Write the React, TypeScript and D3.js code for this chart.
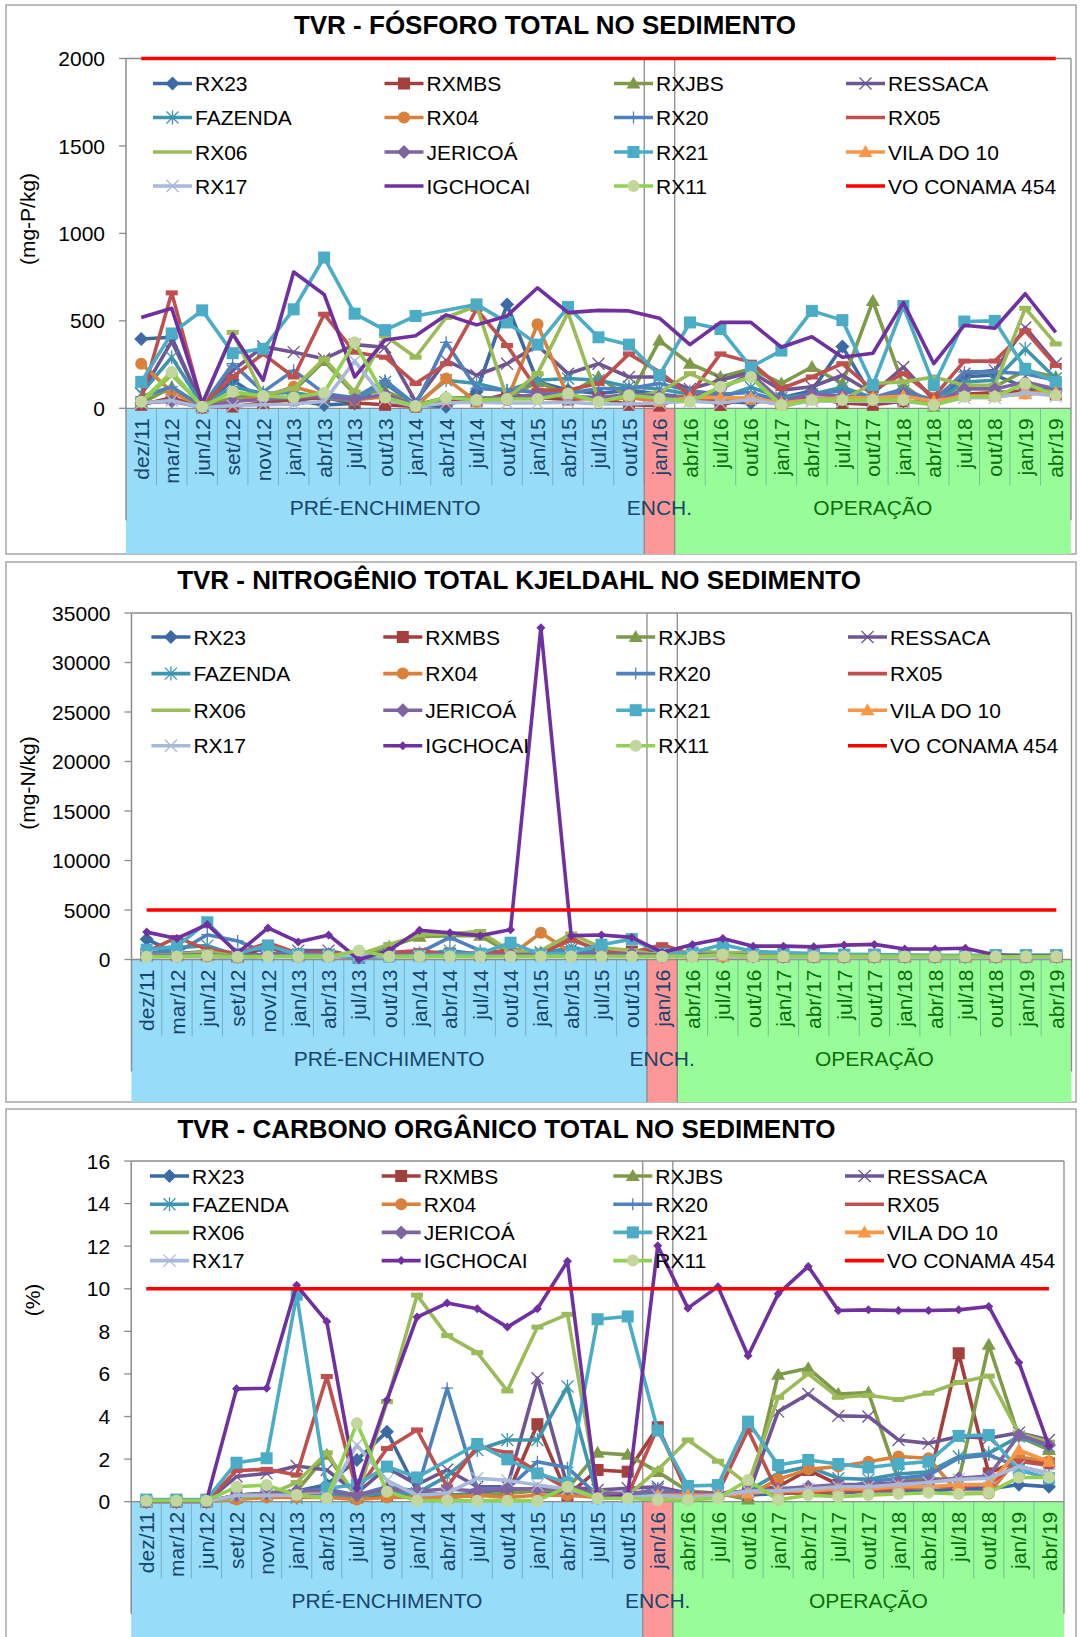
import React from 'react';
import * as d3 from 'd3';

const _ = null;

const CATEGORIES = [
  'dez/11', 'mar/12', 'jun/12', 'set/12', 'nov/12', 'jan/13', 'abr/13', 'jul/13', 'out/13',
  'jan/14', 'abr/14', 'jul/14', 'out/14', 'jan/15', 'abr/15', 'jul/15', 'out/15', 'jan/16',
  'abr/16', 'jul/16', 'out/16', 'jan/17', 'abr/17', 'jul/17', 'out/17', 'jan/18', 'abr/18',
  'jul/18', 'out/18', 'jan/19', 'abr/19',
];

const PHASES = [
  { label: 'PRÉ-ENCHIMENTO', start: 0, end: 16, fill: '#97dcf8', text: '#17456b' },
  { label: 'ENCH.', start: 17, end: 17, fill: '#fe9898', text: '#17456b' },
  { label: 'OPERAÇÃO', start: 18, end: 30, fill: '#98fd98', text: '#0b6e0b' },
];

// legend / drawing order (row-major, as in the legend)
const SERIES = [
  { name: 'RX23', color: '#3c6aa2', marker: 'diamond' },
  { name: 'RXMBS', color: '#a33f3c', marker: 'square' },
  { name: 'RXJBS', color: '#7f9a48', marker: 'triangle' },
  { name: 'RESSACA', color: '#6f5592', marker: 'x' },
  { name: 'FAZENDA', color: '#3d96ae', marker: 'star' },
  { name: 'RX04', color: '#d9803a', marker: 'circle' },
  { name: 'RX20', color: '#4f81bd', marker: 'plus' },
  { name: 'RX05', color: '#c0504d', marker: 'dash' },
  { name: 'RX06', color: '#9bbb59', marker: 'dash' },
  { name: 'JERICOÁ', color: '#8064a2', marker: 'diamond' },
  { name: 'RX21', color: '#4bacc6', marker: 'square' },
  { name: 'VILA DO 10', color: '#f79646', marker: 'triangle' },
  { name: 'RX17', color: '#a9b9da', marker: 'x' },
  { name: 'IGCHOCAI', color: '#7030a0', marker: 'smallDiamond' },
  { name: 'RX11', color: '#92d050', marker: 'circle', markerFill: '#c3d69b' },
  { name: 'VO CONAMA 454', color: '#ff0000', marker: 'none' },
];

// ---- Fósforo total (mg-P/kg)
const P_RX23 = [396, 406, 9, 160, 47, 47, 19, 28, 142, 19, 9, 94, 594, 151, 104, 85, 104, 80, 60, 40, 30, 60, 100, 353, 60, 40, 30, 180, 190, 120, 100];
const P_RXMBS = [20, 60, 5, 10, 30, 50, 60, 30, 20, 10, 40, 40, 80, 60, 50, 60, 20, 15, 80, 19, 60, 30, 60, 30, 20, 40, 30, 80, 90, 100, 80];
const P_RXJBS = [30, 120, 10, 60, 80, 100, 270, 80, 100, 20, 60, 60, 60, 150, 80, 180, 60, 387, 255, 179, 226, 142, 236, 142, 613, 132, 9, 123, 123, 217, 179];
const P_RESSACA = [85, 383, 19, 217, 353, 321, 283, 364, 349, 38, 274, 189, 255, 359, 198, 255, 179, 179, 110, 160, 208, 104, 123, 189, 85, 236, 47, 198, 217, 462, 255];
const P_FAZENDA = [85, 292, 19, 123, 85, 90, 60, 40, 150, 20, 160, 142, 100, 160, 170, 160, 123, 110, 80, 60, 120, 60, 80, 120, 60, 100, 30, 150, 160, 340, 170];
const P_RX04 = [255, 94, 9, 38, 66, 123, 75, 47, 66, 9, 170, 38, 47, 481, 66, 47, 60, 40, 80, 60, 50, 20, 50, 60, 60, 70, 60, 70, 70, 85, 104];
const P_RX20 = [66, 123, 10, 255, 94, 217, 85, 60, 160, 19, 377, 113, 104, 94, 85, 113, 113, 142, 100, 80, 90, 40, 80, 100, 60, 110, 40, 208, 208, 198, 160];
const P_RX05 = [47, 660, 19, 179, 311, 179, 538, 321, 292, 142, 255, 566, 359, 104, 104, 142, 311, 208, 75, 311, 264, 113, 179, 255, 104, 198, 66, 270, 270, 443, 245];
const P_RX06 = [38, 190, 15, 434, 75, 113, 283, 94, 415, 292, 519, 585, 57, 198, 547, 47, 66, 90, 198, 123, 179, 9, 47, 47, 142, 151, 179, 132, 132, 572, 368];
const P_JERICOA = [30, 40, 5, 40, 50, 60, 70, 50, 80, 15, 60, 50, 60, 80, 70, 60, 80, 70, 60, 110, 200, 40, 80, 70, 50, 80, 30, 110, 110, 150, 110];
const P_RX21 = [151, 428, 560, 315, 340, 566, 862, 541, 447, 528, _, 594, 491, 364, 579, 406, 364, 189, 491, 453, 236, 330, 557, 504, 132, 585, 132, 496, 500, 226, 151];
const P_VILA = [_, _, _, _, _, _, _, _, _, _, _, _, _, _, _, _, _, 40, 60, 60, 60, 30, 50, 60, 60, 70, 40, 70, 70, 80, 90];
const P_RX17 = [30, 45, 5, 15, 20, 25, 40, 270, 50, 10, 30, 35, 30, 30, 35, 25, 25, 30, 40, 30, 50, 20, 40, 40, 40, 40, 20, 60, 60, 90, 70];
const P_IGCHOCAI = [519, 572, 28, 425, 160, 779, 651, 179, 391, 415, 534, 477, 528, 689, 547, 560, 557, 515, 364, 491, 491, 349, 409, 292, 315, 604, 255, 475, 458, 655, 434];
const P_RX11 = [38, 208, 9, 94, 70, 62, 89, 377, 62, 13, 62, 47, 53, 53, 85, 38, 75, 57, 38, 123, 179, 19, 47, 47, 47, 47, 19, 66, 66, 142, 75];
const P_VO = [2000, 2000, 2000, 2000, 2000, 2000, 2000, 2000, 2000, 2000, 2000, 2000, 2000, 2000, 2000, 2000, 2000, 2000, 2000, 2000, 2000, 2000, 2000, 2000, 2000, 2000, 2000, 2000, 2000, 2000, 2000];

// ---- Nitrogênio total Kjeldahl (mg-N/kg)
const N_RX23 = [2057, 600, 800, 400, 500, 400, 400, 200, 400, 400, 500, 400, 400, 600, 500, 500, 600, 400, 400, 300, 300, 300, 300, 300, 300, 300, 300, 300, 300, 300, 300];
const N_RXMBS = [600, 600, 500, 300, 1200, 400, 400, 200, 500, 400, 600, 500, 600, 500, 600, 700, 800, 1000, 500, 400, 400, 300, 300, 300, 300, 300, 300, 300, 300, 300, 300];
const N_RXJBS = [500, 500, 400, 300, 500, 400, 400, 300, 1300, 2300, 2400, 2400, 600, 700, 2200, 600, 700, 500, 600, 700, 400, 400, 300, 300, 300, 300, 300, 300, 300, 300, 300];
const N_RESSACA = [400, 500, 600, 300, 500, 900, 900, 200, 500, 600, 500, 500, 500, 700, 1000, 600, 500, 400, 500, 500, 400, 400, 400, 400, 400, 300, 300, 300, 300, 300, 300];
const N_FAZENDA = [500, 1200, 1400, 400, 500, 500, 500, 300, 500, 500, 900, 500, 500, 500, 1300, 500, 500, 300, 400, 400, 400, 300, 300, 300, 300, 300, 300, 300, 300, 300, 300];
const N_RX04 = [500, 300, 300, 200, 400, 300, 300, 200, 300, 300, 400, 500, 400, 2695, 700, 500, 500, 400, 400, 300, 300, 300, 300, 300, 300, 300, 300, 300, 300, 300, 300];
const N_RX20 = [700, 700, 2500, 1879, 600, 500, 500, 300, 500, 700, 2234, 900, 500, 400, 500, 900, 700, 300, 600, 500, 500, 400, 400, 400, 400, 400, 400, 300, 300, 300, 300];
const N_RX05 = [800, 2234, 1000, 600, 1702, 600, 700, 400, 700, 900, 500, 700, 900, 600, 2000, 900, 700, 1500, 500, 600, 500, 400, 400, 400, 400, 300, 300, 300, 300, 300, 300];
const N_RX06 = [400, 500, 800, 300, 400, 300, 300, 500, 1525, 2482, 2600, 2837, 800, 900, 2588, 1200, 900, 400, 900, 700, 700, 500, 500, 500, 500, 400, 400, 400, 400, 400, 350];
const N_JERICOA = [400, 400, 500, 300, 500, 500, 500, 200, 400, 400, 500, 400, 500, 500, 600, 500, 600, 400, 500, 500, 400, 300, 300, 300, 300, 300, 300, 300, 300, 300, 300];
const N_RX21 = [993, 1347, 3759, 600, 1418, 500, 400, 200, 300, 400, 500, 600, 1702, 500, 700, 1500, 2057, 600, 709, 1525, 816, 700, 600, 500, 500, 450, 400, 400, 450, 450, 450];
const N_VILA = [_, _, _, _, _, _, _, _, _, _, _, _, _, _, _, _, _, 300, 300, 300, 300, 300, 300, 300, 300, 300, 300, 300, 300, 300, 300];
const N_RX17 = [300, 300, 300, 200, 300, 300, 300, 500, 300, 300, 300, 300, 300, 300, 300, 300, 300, 300, 300, 300, 300, 200, 200, 200, 200, 200, 200, 200, 200, 200, 200];
const N_IGCHOCAI = [2766, 2128, 3546, 638, 3191, 1773, 2482, 0, 922, 2943, 2695, 2411, 3014, 33500, 2411, 2482, 2234, 709, 1525, 2128, 1348, 1348, 1277, 1454, 1525, 1064, 1064, 1135, 450, 350, 350];
const N_RX11 = [280, 300, 400, 280, 300, 300, 300, 900, 300, 300, 300, 300, 300, 300, 300, 300, 300, 300, 300, 500, 300, 300, 300, 300, 300, 300, 300, 300, 300, 300, 300];
const N_VO = [5000, 5000, 5000, 5000, 5000, 5000, 5000, 5000, 5000, 5000, 5000, 5000, 5000, 5000, 5000, 5000, 5000, 5000, 5000, 5000, 5000, 5000, 5000, 5000, 5000, 5000, 5000, 5000, 5000, 5000, 5000];

// ---- Carbono orgânico total (%)
const C_RX23 = [0, 0, 0, 0.2, 0.4, 0.5, 0.8, 1.96, 3.29, 0.5, 0.3, 0.4, 0.6, 0.5, 0.4, 0.2, 0.2, 0.4, 0.3, 0.3, 0.3, 0.4, 0.4, 0.4, 0.5, 0.5, 0.5, 0.6, 0.6, 0.8, 0.7];
const C_RXMBS = [0, 0, 0, 0.2, 0.3, 0.3, 0.3, 0.2, 0.3, 0.3, 0.2, 0.3, 0.3, 3.64, 0.3, 1.49, 1.41, 3.5, 0.4, 0.4, 0.5, 0.7, 1.49, 0.8, 0.7, 0.8, 0.9, 6.97, 1.33, 1.96, 1.8];
const C_RXJBS = [0, 0, 0, 0.3, 0.4, 0.5, 2.2, 0.2, 0.5, 0.3, 0.3, 0.3, 0.4, 0.5, 0.6, 2.3, 2.2, 1.4, 0.5, 0.4, 0.1, 5.96, 6.27, 5.06, 5.13, 1.0, 1.1, 1.0, 7.37, 3.06, 2.43];
const C_RESSACA = [0, 0, 0, 1.18, 1.33, 1.68, 1.49, 0.4, 1.6, 0.8, 1.5, 0.7, 0.7, 5.8, 0.7, 0.55, 0.63, 0.7, 0.4, 0.4, 0.3, 4.23, 5.06, 4.03, 4.0, 2.9, 2.74, 3.06, 2.98, 3.24, 2.9];
const C_FAZENDA = [0, 0, 0, 0.3, 0.4, 0.2, 0.3, 0.3, 0.4, 0.4, 1.2, 2.43, 2.9, 2.9, 5.41, 0.2, 0.3, 0.6, 0.3, 0.4, 0.5, 1.33, 1.65, 1.1, 1.05, 1.3, 1.4, 2.12, 2.27, 3.06, 2.59];
const C_RX04 = [0, 0, 0, 0.1, 0.2, 0.2, 0.2, 0.1, 0.2, 0.2, 0.2, 0.3, 0.2, 0.3, 0.3, 0.2, 0.2, 0.2, 0.3, 0.3, 0.3, 1.05, 1.52, 1.65, 1.88, 2.12, 2.04, 0.39, 0.39, 2.1, 1.9];
const C_RX20 = [0, 0, 0, 0.3, 0.4, 0.5, 0.6, 0.3, 0.7, 0.5, 5.33, 0.6, 0.6, 1.88, 1.6, 0.3, 0.3, 0.6, 0.2, 0.3, 0.4, 0.6, 0.7, 0.6, 0.94, 1.1, 1.25, 2.04, 2.19, 1.65, 1.33];
const C_RX05 = [0, 0, 0, 1.46, 1.52, 1.25, 5.88, 0.5, 2.5, 3.37, 0.7, 2.6, 2.3, 1.4, 0.6, 0.3, 0.3, 3.5, 0.4, 0.4, 3.37, 0.4, 0.4, 0.5, 0.5, 0.6, 0.7, 0.7, 0.8, 1.9, 1.7];
const C_RX06 = [0, 0, 0, 0.2, 0.3, 0.9, 2.3, 0.2, 4.7, 9.7, 7.8, 7.0, 5.2, 8.2, 8.8, 0.5, 0.3, 1.5, 2.9, 1.9, 0.8, 4.9, 6.0, 4.9, 5.0, 4.8, 5.1, 5.6, 5.9, 3.2, 2.8];
const C_JERICOA = [0, 0, 0, 0.3, 0.4, 0.5, 0.5, 0.3, 0.6, 0.5, 0.6, 0.5, 0.6, 0.6, 0.6, 0.4, 0.4, 0.5, 0.4, 0.4, 0.5, 0.6, 0.7, 0.8, 0.8, 0.9, 1.0, 1.1, 1.2, 3.13, 2.66];
const C_RX21 = [0.1, 0.1, 0.1, 1.83, 2.04, 9.72, 0.63, 0.8, 1.65, 1.14, _, 2.71, 1.99, 1.33, 0.89, 8.57, 8.7, 3.34, 0.74, 0.78, 3.76, 1.72, 1.96, 1.77, 1.61, 1.77, 1.88, 3.09, 3.13, 1.49, 1.1];
const C_VILA = [_, _, _, _, _, _, _, _, _, _, _, _, _, _, _, _, _, 0.3, 0.3, 0.3, 0.4, 0.5, 0.5, 0.6, 0.6, 0.7, 0.7, 0.8, 0.8, 2.43, 1.88];
const C_RX17 = [0, 0, 0, 0.3, 0.3, 0.3, 0.2, 2.66, 1.0, 0.3, 0.4, 1.1, 1.0, 0.78, 0.6, 0.2, 0.2, 0.3, 0.2, 0.3, 0.5, 0.5, 0.6, 0.7, 0.7, 0.8, 0.9, 1.05, 1.1, 1.65, 1.33];
const C_IGCHOCAI = [0.03, 0.03, 0.03, 5.3, 5.33, 10.16, 8.46, 0.63, 4.78, 8.67, 9.33, 9.06, 8.2, 9.06, 11.29, 0.16, 0.3, 12.02, 9.09, 10.1, 6.85, 9.76, 11.05, 8.98, 9.01, 8.98, 8.98, 9.01, 9.17, 6.54, 2.62];
const C_RX11 = [0.05, 0.05, 0.05, 0.7, 0.78, 0.31, 0.16, 3.68, 0.47, 0.05, 0.05, 0.05, 0.05, 0.05, 0.7, 0.16, 0.16, 0.08, 0.08, 0.16, 1.02, 0.08, 0.31, 0.23, 0.31, 0.36, 0.42, 0.36, 0.42, 1.14, 1.14];
const C_VO = [10, 10, 10, 10, 10, 10, 10, 10, 10, 10, 10, 10, 10, 10, 10, 10, 10, 10, 10, 10, 10, 10, 10, 10, 10, 10, 10, 10, 10, 10, 10];

const P_VALUES = [P_RX23, P_RXMBS, P_RXJBS, P_RESSACA, P_FAZENDA, P_RX04, P_RX20, P_RX05, P_RX06, P_JERICOA, P_RX21, P_VILA, P_RX17, P_IGCHOCAI, P_RX11, P_VO];
const N_VALUES = [N_RX23, N_RXMBS, N_RXJBS, N_RESSACA, N_FAZENDA, N_RX04, N_RX20, N_RX05, N_RX06, N_JERICOA, N_RX21, N_VILA, N_RX17, N_IGCHOCAI, N_RX11, N_VO];
const C_VALUES = [C_RX23, C_RXMBS, C_RXJBS, C_RESSACA, C_FAZENDA, C_RX04, C_RX20, C_RX05, C_RX06, C_JERICOA, C_RX21, C_VILA, C_RX17, C_IGCHOCAI, C_RX11, C_VO];

const FONT = '"Liberation Sans", Arial, sans-serif';

const PANELS = [
  {
    title: 'TVR - FÓSFORO TOTAL NO SEDIMENTO', titleX: 545, titleY: 34,
    yTitle: '(mg-P/kg)', yTitleX: 27, yTitleY: 219,
    box: [6, 5, 1070, 549], left: 126, right: 1071, top: 58.5, zero: 408.3,
    yMax: 2000, yStep: 500, bandBottom: 554, phaseY: 515,
    legendX: [153, 384.5, 614, 846], legendY: [83.5, 117.5, 152, 186],
    values: P_VALUES, igMarker: 'none',
  },
  {
    title: 'TVR - NITROGÊNIO TOTAL KJELDAHL NO SEDIMENTO', titleX: 519, titleY: 589,
    yTitle: '(mg-N/kg)', yTitleX: 27, yTitleY: 783,
    box: [6, 562, 1070, 540], left: 131.5, right: 1071.5, top: 613, zero: 959.5,
    yMax: 35000, yStep: 5000, bandBottom: 1102, phaseY: 1066,
    legendX: [151.4, 383.3, 616.2, 848], legendY: [637, 673.6, 710.2, 745.7],
    values: N_VALUES, igMarker: 'smallDiamond',
  },
  {
    title: 'TVR - CARBONO ORGÂNICO TOTAL NO SEDIMENTO', titleX: 506.5, titleY: 1138,
    yTitle: '(%)', yTitleX: 32, yTitleY: 1300,
    box: [6, 1109, 1070, 560], left: 131.2, right: 1064, top: 1161, zero: 1501.7,
    yMax: 16, yStep: 2, bandBottom: 1640, phaseY: 1608,
    legendX: [150, 381.7, 613.3, 845], legendY: [1176, 1204.2, 1232.4, 1260.6],
    values: C_VALUES, igMarker: 'smallDiamond',
  },
];

function Marker({ kind, x, y, color, fill }: any) {
  const s = 6;
  if (kind === 'none') return null;
  if (kind === 'diamond')
    return <path d={`M${x},${y - 7}L${x + 7},${y}L${x},${y + 7}L${x - 7},${y}Z`} fill={color} />;
  if (kind === 'smallDiamond')
    return <path d={`M${x},${y - 4.5}L${x + 4.5},${y}L${x},${y + 4.5}L${x - 4.5},${y}Z`} fill={color} />;
  if (kind === 'square')
    return <rect x={x - s} y={y - s} width={2 * s} height={2 * s} fill={color} />;
  if (kind === 'triangle')
    return <path d={`M${x},${y - 7}L${x + 7},${y + 5}L${x - 7},${y + 5}Z`} fill={color} />;
  if (kind === 'circle') return <circle cx={x} cy={y} r={s} fill={fill || color} />;
  if (kind === 'dash') return <rect x={x - 6} y={y - 2.5} width={12} height={5} fill={color} />;
  const d =
    kind === 'x'
      ? `M${x - s},${y - s}L${x + s},${y + s}M${x - s},${y + s}L${x + s},${y - s}`
      : kind === 'plus'
        ? `M${x - s},${y}L${x + s},${y}M${x},${y - s}L${x},${y + s}`
        : `M${x - s},${y - s}L${x + s},${y + s}M${x - s},${y + s}L${x + s},${y - s}M${x},${y - s - 1}L${x},${y + s + 1}`;
  return <path d={d} stroke={color} strokeWidth={1.3} fill="none" />;
}

function Panel({ cfg }: any) {
  const x = d3.scaleBand<string>().domain(CATEGORIES).range([cfg.left, cfg.right]).padding(0);
  const y = d3.scaleLinear().domain([0, cfg.yMax]).range([cfg.zero, cfg.top]);
  const bw = x.bandwidth();
  const cx = (c: string) => (x(c) as number) + bw / 2;
  const ticks = d3.range(0, cfg.yMax + cfg.yStep / 2, cfg.yStep);
  const line = d3.line<[number, number]>().x((p) => p[0]).y((p) => p[1]);
  const [bx, by, bwid, bh] = cfg.box;
  const redL = x(CATEGORIES[17]) as number;
  const redR = redL + bw;
  const axisBottom = cfg.zero + 112;

  const markerOf = (i: number) => (SERIES[i].name === 'IGCHOCAI' ? cfg.igMarker : SERIES[i].marker);

  return (
    <g>
      <rect x={bx} y={by} width={bwid} height={bh} fill="#fff" stroke="#a6a6a6" strokeWidth={1.5} />
      {PHASES.map((ph) => {
        const x0 = x(CATEGORIES[ph.start]) as number;
        const x1 = (x(CATEGORIES[ph.end]) as number) + bw;
        return <rect key={ph.label} x={x0} y={cfg.zero} width={x1 - x0} height={cfg.bandBottom - cfg.zero} fill={ph.fill} />;
      })}
      {CATEGORIES.map((c, i) =>
        i === 0 ? null : (
          <line key={c} x1={x(c)} x2={x(c)} y1={cfg.zero} y2={cfg.zero + 77} stroke="#5f8a9c" strokeOpacity={0.55} strokeWidth={1} />
        )
      )}
      {/* plot-area outline and the filling-period frame */}
      <line x1={cfg.left} x2={cfg.right} y1={cfg.top} y2={cfg.top} stroke="#8c8c8c" strokeWidth={1.3} />
      <line x1={redL} x2={redL} y1={cfg.top} y2={cfg.bandBottom} stroke="#8c8c8c" strokeWidth={1.3} />
      <line x1={redR} x2={redR} y1={cfg.top} y2={cfg.bandBottom} stroke="#8c8c8c" strokeWidth={1.3} />
      <line x1={cfg.right} x2={cfg.right} y1={cfg.top} y2={axisBottom} stroke="#8c8c8c" strokeWidth={1.3} />
      <line x1={cfg.left} x2={cfg.right} y1={cfg.zero} y2={cfg.zero} stroke="#8c8c8c" strokeWidth={1.3} />
      <line x1={cfg.left} x2={cfg.left} y1={cfg.top} y2={axisBottom} stroke="#8c8c8c" strokeWidth={1.5} />
      {ticks.map((t: number) => (
        <g key={t}>
          <line x1={cfg.left - 7} x2={cfg.left} y1={y(t)} y2={y(t)} stroke="#8c8c8c" strokeWidth={1.3} />
          <text x={cfg.left - 21} y={y(t)} dy="0.36em" textAnchor="end" fontSize={21} fill="#000">
            {t}
          </text>
        </g>
      ))}
      <text
        transform={`translate(${cfg.yTitleX},${cfg.yTitleY}) rotate(-90)`}
        textAnchor="middle"
        dy="0.36em"
        fontSize={21}
        fill="#000"
      >
        {cfg.yTitle}
      </text>
      <text x={cfg.titleX} y={cfg.titleY} textAnchor="middle" fontSize={26} fontWeight="bold" fill="#000">
        {cfg.title}
      </text>
      {CATEGORIES.map((c, i) => {
        const ph = PHASES.find((p) => i >= p.start && i <= p.end)!;
        return (
          <text
            key={c}
            transform={`translate(${cx(c)},${cfg.zero + 10}) rotate(-90)`}
            textAnchor="end"
            dy="0.36em"
            fontSize={21}
            fill={ph.text}
          >
            {c}
          </text>
        );
      })}
      {PHASES.map((ph) => {
        const x0 = x(CATEGORIES[ph.start]) as number;
        const x1 = (x(CATEGORIES[ph.end]) as number) + bw;
        return (
          <text key={ph.label} x={(x0 + x1) / 2} y={cfg.phaseY} textAnchor="middle" fontSize={21} fill={ph.text}>
            {ph.label}
          </text>
        );
      })}
      {SERIES.map((s, si) => {
        const pts: [number, number][] = [];
        cfg.values[si].forEach((v: number | null, i: number) => {
          if (v !== null) pts.push([cx(CATEGORIES[i]), y(v)]);
        });
        const mk = markerOf(si);
        return (
          <g key={s.name}>
            <path d={line(pts) || ''} fill="none" stroke={s.color} strokeWidth={3.6} strokeLinejoin="round" />
            {pts.map((p, k) => (
              <Marker key={k} kind={mk} x={p[0]} y={p[1]} color={s.color} fill={(s as any).markerFill} />
            ))}
          </g>
        );
      })}
      {SERIES.map((s, si) => {
        const lx = cfg.legendX[si % 4];
        const ly = cfg.legendY[Math.floor(si / 4)];
        const mk = markerOf(si);
        return (
          <g key={s.name}>
            <line x1={lx} x2={lx + 39} y1={ly} y2={ly} stroke={s.color} strokeWidth={3.6} />
            {mk !== 'dash' && <Marker kind={mk} x={lx + 19.5} y={ly} color={s.color} fill={(s as any).markerFill} />}
            <text x={lx + 42} y={ly} dy="0.36em" fontSize={21} fill="#000">
              {s.name}
            </text>
          </g>
        );
      })}
    </g>
  );
}

export default function App() {
  return (
    <svg
      width={1081}
      height={1637}
      viewBox="0 0 1081 1637"
      style={{ position: 'absolute', left: 0, top: 0, background: '#fff' }}
      fontFamily={FONT}
    >
      <rect x={0} y={0} width={1081} height={1637} fill="#fff" />
      {PANELS.map((p) => (
        <Panel key={p.title} cfg={p} />
      ))}
    </svg>
  );
}
